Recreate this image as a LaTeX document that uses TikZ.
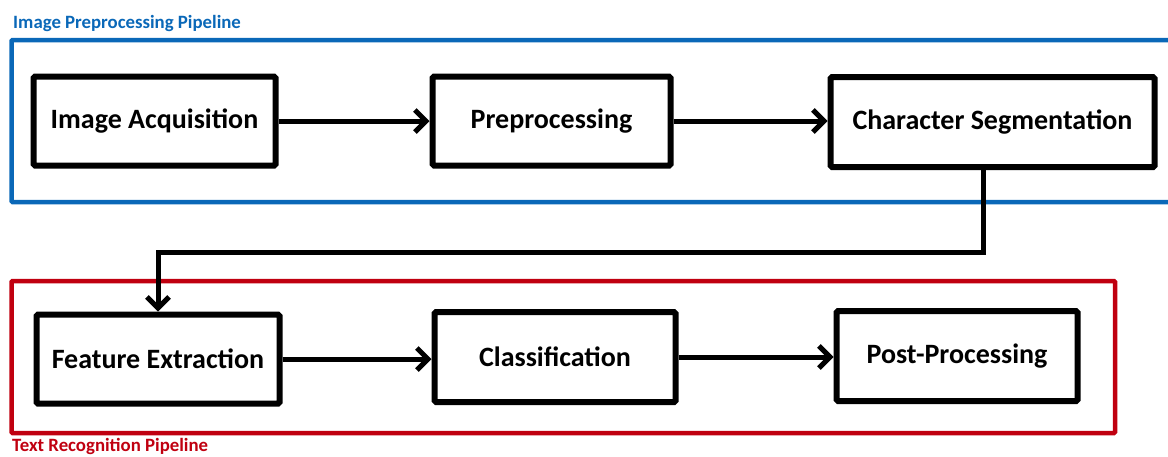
\documentclass[tikz,border=0pt]{standalone}
\usepackage{fontspec}
\setmainfont{Carlito}
\usetikzlibrary{arrows.meta}
\definecolor{pipeblue}{HTML}{0A68B8}
\definecolor{pipered}{HTML}{C00010}
\tikzset{
  stepbox/.style={draw=black, line width=6pt, rounded corners=1.5pt, fill=white,
    font=\fontsize{28}{32}\selectfont\bfseries, inner sep=0pt},
  conn/.style={draw=black, line width=5pt, -{Straight Barb[length=11pt,width=22pt,line width=5pt]}},
  frameline/.style={line width=4.5pt, rounded corners=1pt},
  framelabel/.style={font=\fontsize{18.8}{22}\selectfont\bfseries, anchor=west, inner sep=0pt}
}
\begin{document}
\begin{tikzpicture}[x=1pt,y=-1pt]
\useasboundingbox (0,0) rectangle (1168,456);
% frames
\draw[frameline, draw=pipeblue] (1180,40) -- (11.5,40) -- (11.5,202) -- (1180,202);
\draw[frameline, draw=pipered] (11.5,281) rectangle (1115,433);
\node[framelabel, text=pipeblue] (lblA) at (13,23) {Image Preprocessing Pipeline};
\node[framelabel, text=pipered] (lblB) at (12,446.5) {Text Recognition Pipeline};
% nodes
\node[stepbox, minimum width=242pt, minimum height=89pt] (ia) at (154.5,121) {Image Acquisition};
\node[stepbox, minimum width=238pt, minimum height=89pt] (pp) at (551.5,121) {Preprocessing};
\node[stepbox, minimum width=324pt, minimum height=90pt] (cs) at (992.5,122) {Character Segmentation};
\node[stepbox, minimum width=243pt, minimum height=89pt] (fe) at (158,359) {Feature Extraction};
\node[stepbox, minimum width=241pt, minimum height=90pt] (cl) at (555,357) {Classification};
\node[stepbox, minimum width=241pt, minimum height=90pt] (po) at (957,356) {Post-Processing};
% connectors
\draw[conn] (ia.east) -- (pp.west|-ia.east);
\draw[conn] (pp.east) -- (cs.west|-pp.east);
\coordinate (turn) at (983,252);
\draw[conn] (cs.south-|turn) -- (turn) -| (fe.north);
\draw[conn] (fe.east) -- (cl.west|-fe.east);
\draw[conn] (cl.east) -- (po.west|-cl.east);
\end{tikzpicture}
\end{document}
